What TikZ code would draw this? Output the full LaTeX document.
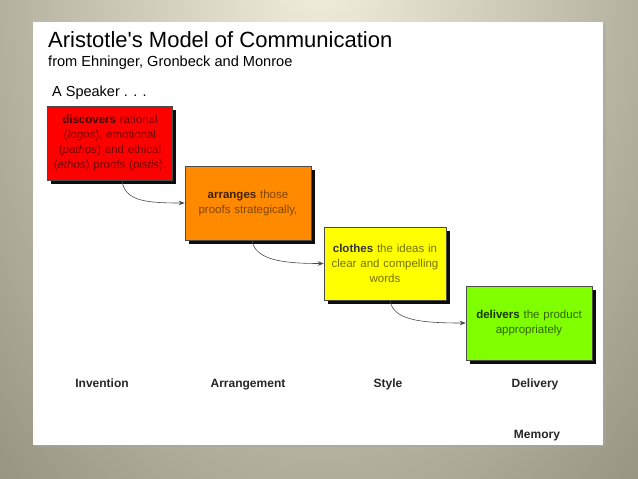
\documentclass[tikz,border=0pt]{standalone}
\usepackage{fontspec}
\setmainfont{Liberation Sans}
\usetikzlibrary{shadows,arrows.meta}
\definecolor{bgout}{HTML}{85836F}
\definecolor{bgin}{HTML}{F2EFDC}
\definecolor{cred}{HTML}{FF0000}
\definecolor{corange}{HTML}{FF8A00}
\definecolor{cyellow}{HTML}{FFFF00}
\definecolor{cgreen}{HTML}{80FF00}
\tikzset{
  stagebox/.style={draw=black!70, line width=0.5pt, minimum width=#1, minimum height=74pt,
    inner sep=0pt, align=center, text width=#1-8pt,
    font=\fontsize{11.5}{15}\selectfont,
    drop shadow={shadow xshift=3.5pt, shadow yshift=-3.5pt, fill=black, opacity=0.95}},
  flow/.style={draw=black!70, line width=0.6pt, -{Stealth[length=6pt,width=4.5pt]}},
  canon/.style={font=\fontsize{12}{14}\selectfont\bfseries, text=black!85, anchor=base, inner sep=0pt},
}
\begin{document}
\begin{tikzpicture}[x=1pt,y=-1pt]
\useasboundingbox (0,0) rectangle (638,479);
\begin{scope}
\clip (0,0) rectangle (638,479);
\fill[bgout] (0,0) rectangle (638,479);
\shade[inner color=bgin, outer color=bgout] (320,-40) ellipse [x radius=560, y radius=860];
\end{scope}
\fill[black!35,opacity=0.5] (35,24) rectangle (606,447);
\fill[white] (33,22) rectangle (603,445);

\node[anchor=base west, font=\fontsize{22}{24}\selectfont, inner sep=0pt] (title) at (48,47) {Aristotle\textquotesingle s Model of Communication};
\node[anchor=base west, font=\fontsize{14.6}{16}\selectfont, inner sep=0pt] (sub) at (48,66) {from Ehninger, Gronbeck and Monroe};
\node[anchor=base west, font=\fontsize{14.5}{16}\selectfont, inner sep=0pt] (spk) at (52,96) {A Speaker . . .};

\node[stagebox=125pt, fill=cred, text=cred!45!black] (red) at (110,143.5)
  {{\color{cred!25!black}\textbf{discovers}} rational\\(\textit{logos}), emotional\\(\textit{pathos}) and ethical\\(\textit{ethos}) proofs (\textit{pistis}).};
\node[stagebox=126pt, fill=corange, text=corange!50!black] (orange) at (248,203)
  {{\color{corange!25!black}\textbf{arranges}} those\\proofs strategically,};
\node[stagebox=122pt, fill=cyellow, text=cyellow!45!black, minimum height=73pt] (yellow) at (385,263.5)
  {{\color{black!80}\textbf{clothes}} the ideas in\\clear and compelling\\words};
\node[stagebox=126pt, fill=cgreen, text=cgreen!40!black] (green) at (529,323)
  {{\color{cgreen!20!black}\textbf{delivers}} the product\\appropriately};

\draw[flow] ([xshift=12pt]red.south) .. controls +(3,20) and +(-40,0) .. (orange.west);
\draw[flow] ([xshift=4pt]orange.south) .. controls +(3,20) and +(-40,0) .. (yellow.west);
\draw[flow] ([xshift=5pt]yellow.south) .. controls +(3,20) and +(-45,0) .. (green.west);

\node[canon] (inv) at (102,387) {Invention};
\node[canon] (arr) at (248,387) {Arrangement};
\node[canon] (sty) at (388,387) {Style};
\node[canon] (del) at (535,387) {Delivery};
\node[canon] (mem) at (537,438) {Memory};
\end{tikzpicture}
\end{document}
